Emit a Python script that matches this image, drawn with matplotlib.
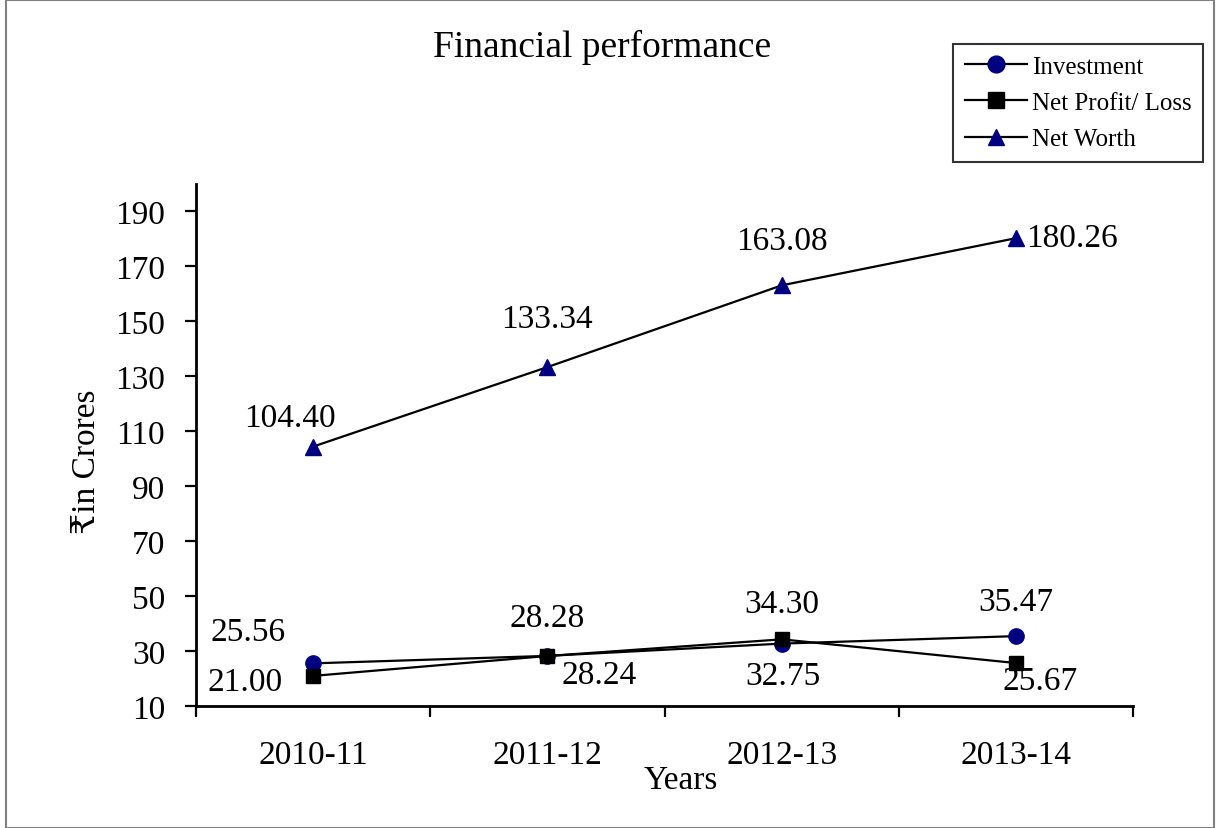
import numpy as np
import matplotlib.pyplot as plt
from matplotlib.patches import Rectangle

# data
years = ['2010-11', '2011-12', '2012-13', '2013-14']
investment = [25.56, 28.28, 32.75, 35.47]
net_profit = [21.00, 28.24, 34.30, 25.67]
net_worth = [104.40, 133.34, 163.08, 180.26]
y_ticks = list(range(10, 191, 20))

# label offsets in pixels (dx, dy)
inv_off = [(-65, 32), (0, 38), (1, -32), (0, 34)]
np_off = [(-68, -6), (52, -19), (0, 36), (24, -18)]
nw_off = [(-23, 29), (0, 48), (0, 45), (56, 0)]

serif = ['Liberation Serif', 'DejaVu Serif', 'DejaVu Sans']
plt.rcParams['font.family'] = serif
fs = 24

fig = plt.figure(figsize=(12.16, 8.29), dpi=100)
ax = fig.add_axes([0.161, 0.147, 0.771, 0.630])

x = np.arange(len(years))
navy = '#000080'
ax.plot(x, investment, color='black', lw=1.6, marker='o', ms=11,
        mfc=navy, mec=navy, label='Investment')
ax.plot(x, net_profit, color='black', lw=1.6, marker='s', ms=10,
        mfc='black', mec='black', label='Net Profit/ Loss')
ax.plot(x, net_worth, color='black', lw=1.6, marker='^', ms=11,
        mfc=navy, mec=navy, label='Net Worth')

for vals, offs in [(investment, inv_off), (net_profit, np_off), (net_worth, nw_off)]:
    for xi, v, (dx, dy) in zip(x, vals, offs):
        ax.annotate(f'{v:.2f}', (xi, v), xytext=(dx, dy), textcoords='offset pixels',
                    ha='center', va='center', fontsize=fs)

ax.set_xlim(-0.5, 3.5)
ax.set_ylim(10, 200)
ax.set_yticks(y_ticks)
ax.set_xticks(x)
ax.set_xticklabels(years)
ax.set_xticks(np.arange(-0.5, 4.0, 1.0), minor=True)
ax.tick_params(axis='x', which='major', length=0, pad=24, labelsize=fs)
ax.tick_params(axis='x', which='minor', length=8, width=1.6, direction='out')
ax.tick_params(axis='y', length=8, width=1.6, direction='out', pad=14, labelsize=fs)

for s in ['top', 'right']:
    ax.spines[s].set_visible(False)
for s in ['left', 'bottom']:
    ax.spines[s].set_linewidth(2)

ax.set_ylabel('₹in Crores', fontsize=fs)
ax.yaxis.set_label_coords(-0.1, 0.47)
ax.set_xlabel('Years', fontsize=fs)
ax.xaxis.set_label_coords(0.517, -0.112)

fig.text(0.495, 0.943, 'Financial performance', ha='center', va='center', fontsize=27)

leg = fig.legend(loc='upper right', bbox_to_anchor=(1203 / 1216, 1 - 45 / 829),
                 fontsize=18, frameon=True, fancybox=False, edgecolor='black',
                 borderpad=0.45, handlelength=2.5, labelspacing=0.55, handletextpad=0.2,
                 borderaxespad=0, markerscale=1.1)
leg.get_frame().set_linewidth(1.5)

fig.patches.append(Rectangle((6 / 1216, 0), 1208 / 1216, 1 - 1 / 829, transform=fig.transFigure,
                             fill=False, edgecolor='#808080', lw=1.5))

fig.savefig('out.png', dpi=100)
